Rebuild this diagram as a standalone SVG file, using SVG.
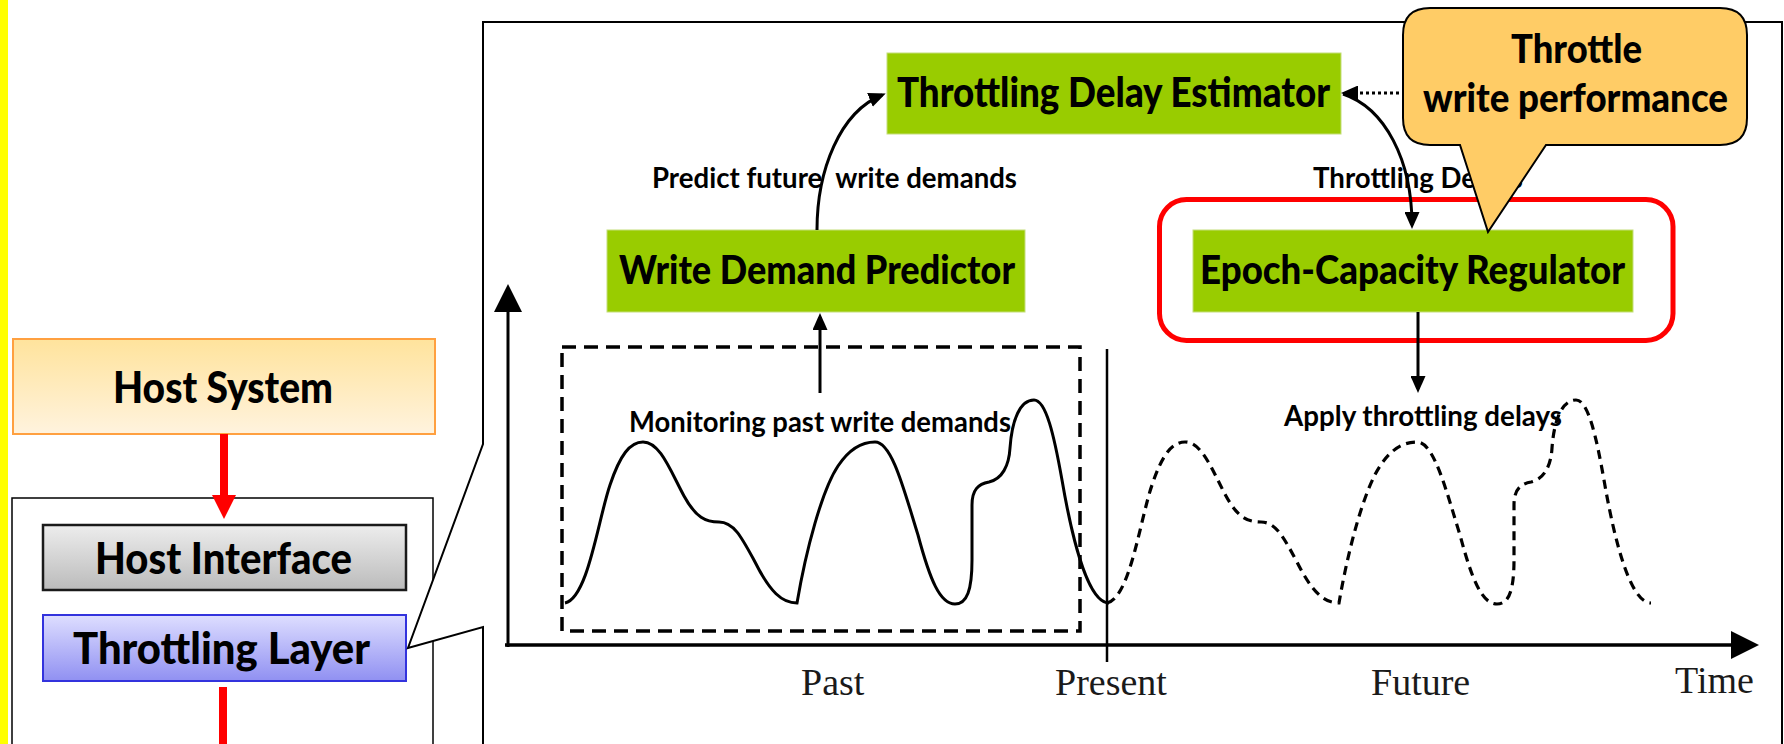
<svg xmlns="http://www.w3.org/2000/svg" xmlns:xlink="http://www.w3.org/1999/xlink" width="1784" height="744" viewBox="0 0 1784 744">
<style>
.bold{font-family:Lato,"Noto Sans","Liberation Sans",sans-serif;font-weight:900;fill:#000}
.lbl{font-family:Lato,"Noto Sans","Liberation Sans",sans-serif;font-weight:700;font-size:29px;fill:#000}
.serif{font-family:"Liberation Serif","Times New Roman",serif;font-size:38px;fill:#1a1a1a}
.green{fill:#99CC00;stroke:#C4DE7A;stroke-width:1}
.conn{fill:none;stroke:#000;stroke-width:3}
.red{fill:none;stroke:#FF0000;stroke-width:8}
</style>
<defs>
<linearGradient id="gHost" x1="0" y1="0" x2="0" y2="1"><stop offset="0" stop-color="#FFE39C"/><stop offset="1" stop-color="#FFF3DE"/></linearGradient>
<linearGradient id="gGray" x1="0" y1="0" x2="0" y2="1"><stop offset="0" stop-color="#EDEDED"/><stop offset="1" stop-color="#BBBBBB"/></linearGradient>
<linearGradient id="gBlue" x1="0" y1="0" x2="0" y2="1"><stop offset="0" stop-color="#DEDEFF"/><stop offset="1" stop-color="#9090F2"/></linearGradient>
<marker id="ah" markerUnits="userSpaceOnUse" markerWidth="17" markerHeight="15" refX="13" refY="7.5" orient="auto"><path d="M0,0 L17,7.5 L0,15 z" fill="#000"/></marker>
<marker id="ahBig" markerUnits="userSpaceOnUse" markerWidth="28" markerHeight="28" refX="16" refY="14" orient="auto"><path d="M0,0 L28,14 L0,28 z" fill="#000"/></marker>
<marker id="ahRed" markerUnits="userSpaceOnUse" markerWidth="24" markerHeight="24" refX="2" refY="12" orient="auto"><path d="M0,0 L24,12 L0,24 z" fill="#FF0000"/></marker>
<path id="wave" fill="none" d="M565,603 C588,598 598,520 610,485 C620,455 630,442 643,442 C660,442 670,470 684,496 C696,518 706,522 719,522 C734,522 742,538 755,562 C770,592 782,603 797,603 C806,550 822,490 838,466 C850,448 862,442 875,442 C892,442 904,490 918,535 C930,580 940,604 955,604 C967,604 972,590 972,560 L972,505 C972,490 978,484 989,482 C1002,479 1009,466 1010,448 C1012,420 1020,400 1034,400 C1046,400 1054,435 1062,480 C1074,550 1090,603 1109,603"/>
</defs>

<rect x="0" y="0" width="1784" height="744" fill="#FFFFFF"/>
<rect x="0" y="0" width="8" height="744" fill="#FFFF00"/>

<g id="host-system">
<rect x="13" y="339" width="422" height="95" fill="url(#gHost)" stroke="#FFA040" stroke-width="2"/>
<text class="bold" x="113" y="403" font-size="43" textLength="220" lengthAdjust="spacingAndGlyphs">Host System</text>
</g>

<g id="ssd-box">
<rect x="12" y="498" width="421" height="260" fill="#FFFFFF" stroke="#000" stroke-width="1.5"/>
</g>

<g id="host-interface">
<rect x="43" y="525" width="363" height="65" fill="url(#gGray)" stroke="#1a1a1a" stroke-width="2.5"/>
<text class="bold" x="95" y="574" font-size="43" textLength="257" lengthAdjust="spacingAndGlyphs">Host Interface</text>
</g>

<g id="throttling-layer">
<rect x="43" y="615" width="363" height="66" fill="url(#gBlue)" stroke="#3333DD" stroke-width="2"/>
<text class="bold" x="73" y="664" font-size="44" textLength="297" lengthAdjust="spacingAndGlyphs">Throttling Layer</text>
</g>

<g id="zoom-panel">
<path d="M483,22 L1782,22 L1782,760 L483,760 L483,627 L408,648 L483,444 Z" fill="#FFFFFF" stroke="#000" stroke-width="2"/>
</g>

<g id="chart">
<line x1="508" y1="647" x2="508" y2="296" stroke="#000" stroke-width="3" marker-end="url(#ahBig)"/>
<line x1="505" y1="645" x2="1747" y2="645" stroke="#000" stroke-width="3.5" marker-end="url(#ahBig)"/>
<line x1="1107" y1="349" x2="1107" y2="662" stroke="#000" stroke-width="2.5"/>
<rect id="past-window" x="562" y="347" width="518" height="284" fill="none" stroke="#000" stroke-width="3.5" stroke-dasharray="14 8"/>
<use xlink:href="#wave" href="#wave" stroke="#000" stroke-width="3"/>
<use xlink:href="#wave" href="#wave" transform="translate(542,0)" stroke="#000" stroke-width="3.2" stroke-dasharray="9 6"/>
<text class="serif" x="801" y="695">Past</text>
<text class="serif" x="1055" y="695">Present</text>
<text class="serif" x="1371" y="695">Future</text>
<text class="serif" x="1675" y="693" font-size="42">Time</text>
</g>

<g id="throttling-delay-estimator">
<rect class="green" x="887" y="53" width="454" height="81"/>
<text class="bold" x="897" y="107" font-size="41" textLength="433" lengthAdjust="spacingAndGlyphs">Throttling Delay Estimator</text>
</g>

<g id="write-demand-predictor">
<rect class="green" x="607" y="230" width="418" height="82"/>
<text class="bold" x="619" y="284" font-size="40" textLength="396" lengthAdjust="spacingAndGlyphs">Write Demand Predictor</text>
</g>

<g id="regulator-highlight">
<rect x="1159.5" y="199.5" width="513.5" height="141" rx="27" ry="27" fill="none" stroke="#FF0000" stroke-width="5"/>
</g>

<g id="epoch-capacity-regulator">
<rect class="green" x="1193" y="230" width="440" height="82"/>
<text class="bold" x="1200" y="284" font-size="39" textLength="425" lengthAdjust="spacingAndGlyphs">Epoch-Capacity Regulator</text>
</g>

<g id="labels">
<text class="lbl" x="652" y="188" textLength="365" lengthAdjust="spacingAndGlyphs" style="white-space:pre">Predict future  write demands</text>
<text class="lbl" x="1313" y="188" textLength="210" lengthAdjust="spacingAndGlyphs">Throttling Delays</text>
<text class="lbl" x="629" y="432" textLength="382" lengthAdjust="spacingAndGlyphs">Monitoring past write demands</text>
<text class="lbl" x="1284" y="426" textLength="278" lengthAdjust="spacingAndGlyphs">Apply throttling delays</text>
</g>

<g id="connectors">
<line x1="224" y1="434" x2="224" y2="497" class="red" marker-end="url(#ahRed)"/>
<line x1="223" y1="687" x2="223" y2="744" class="red"/>
<path class="conn" d="M817,230 C817,170 840,112 882,95" marker-end="url(#ah)"/>
<line class="conn" x1="820" y1="393" x2="820" y2="317" marker-end="url(#ah)"/>
<path class="conn" d="M1343,94 C1385,108 1412,160 1412,225" marker-end="url(#ah)"/>
<line class="conn" x1="1399" y1="93" x2="1345" y2="93" stroke-dasharray="3 3" marker-end="url(#ah)"/>
<line class="conn" x1="1418" y1="312" x2="1418" y2="389" marker-end="url(#ah)"/>
</g>

<g id="callout">
<path d="M1430,8 L1720,8 Q1747,8 1747,35 L1747,118 Q1747,145 1720,145 L1546,145 L1488,232 L1460,145 L1430,145 Q1403,145 1403,118 L1403,35 Q1403,8 1430,8 Z" fill="#FFCC66" stroke="#000" stroke-width="2"/>
<text class="bold" x="1511" y="63" font-size="39" textLength="131" lengthAdjust="spacingAndGlyphs">Throttle</text>
<text class="bold" x="1423" y="112" font-size="39" textLength="305" lengthAdjust="spacingAndGlyphs">write performance</text>
</g>
</svg>
